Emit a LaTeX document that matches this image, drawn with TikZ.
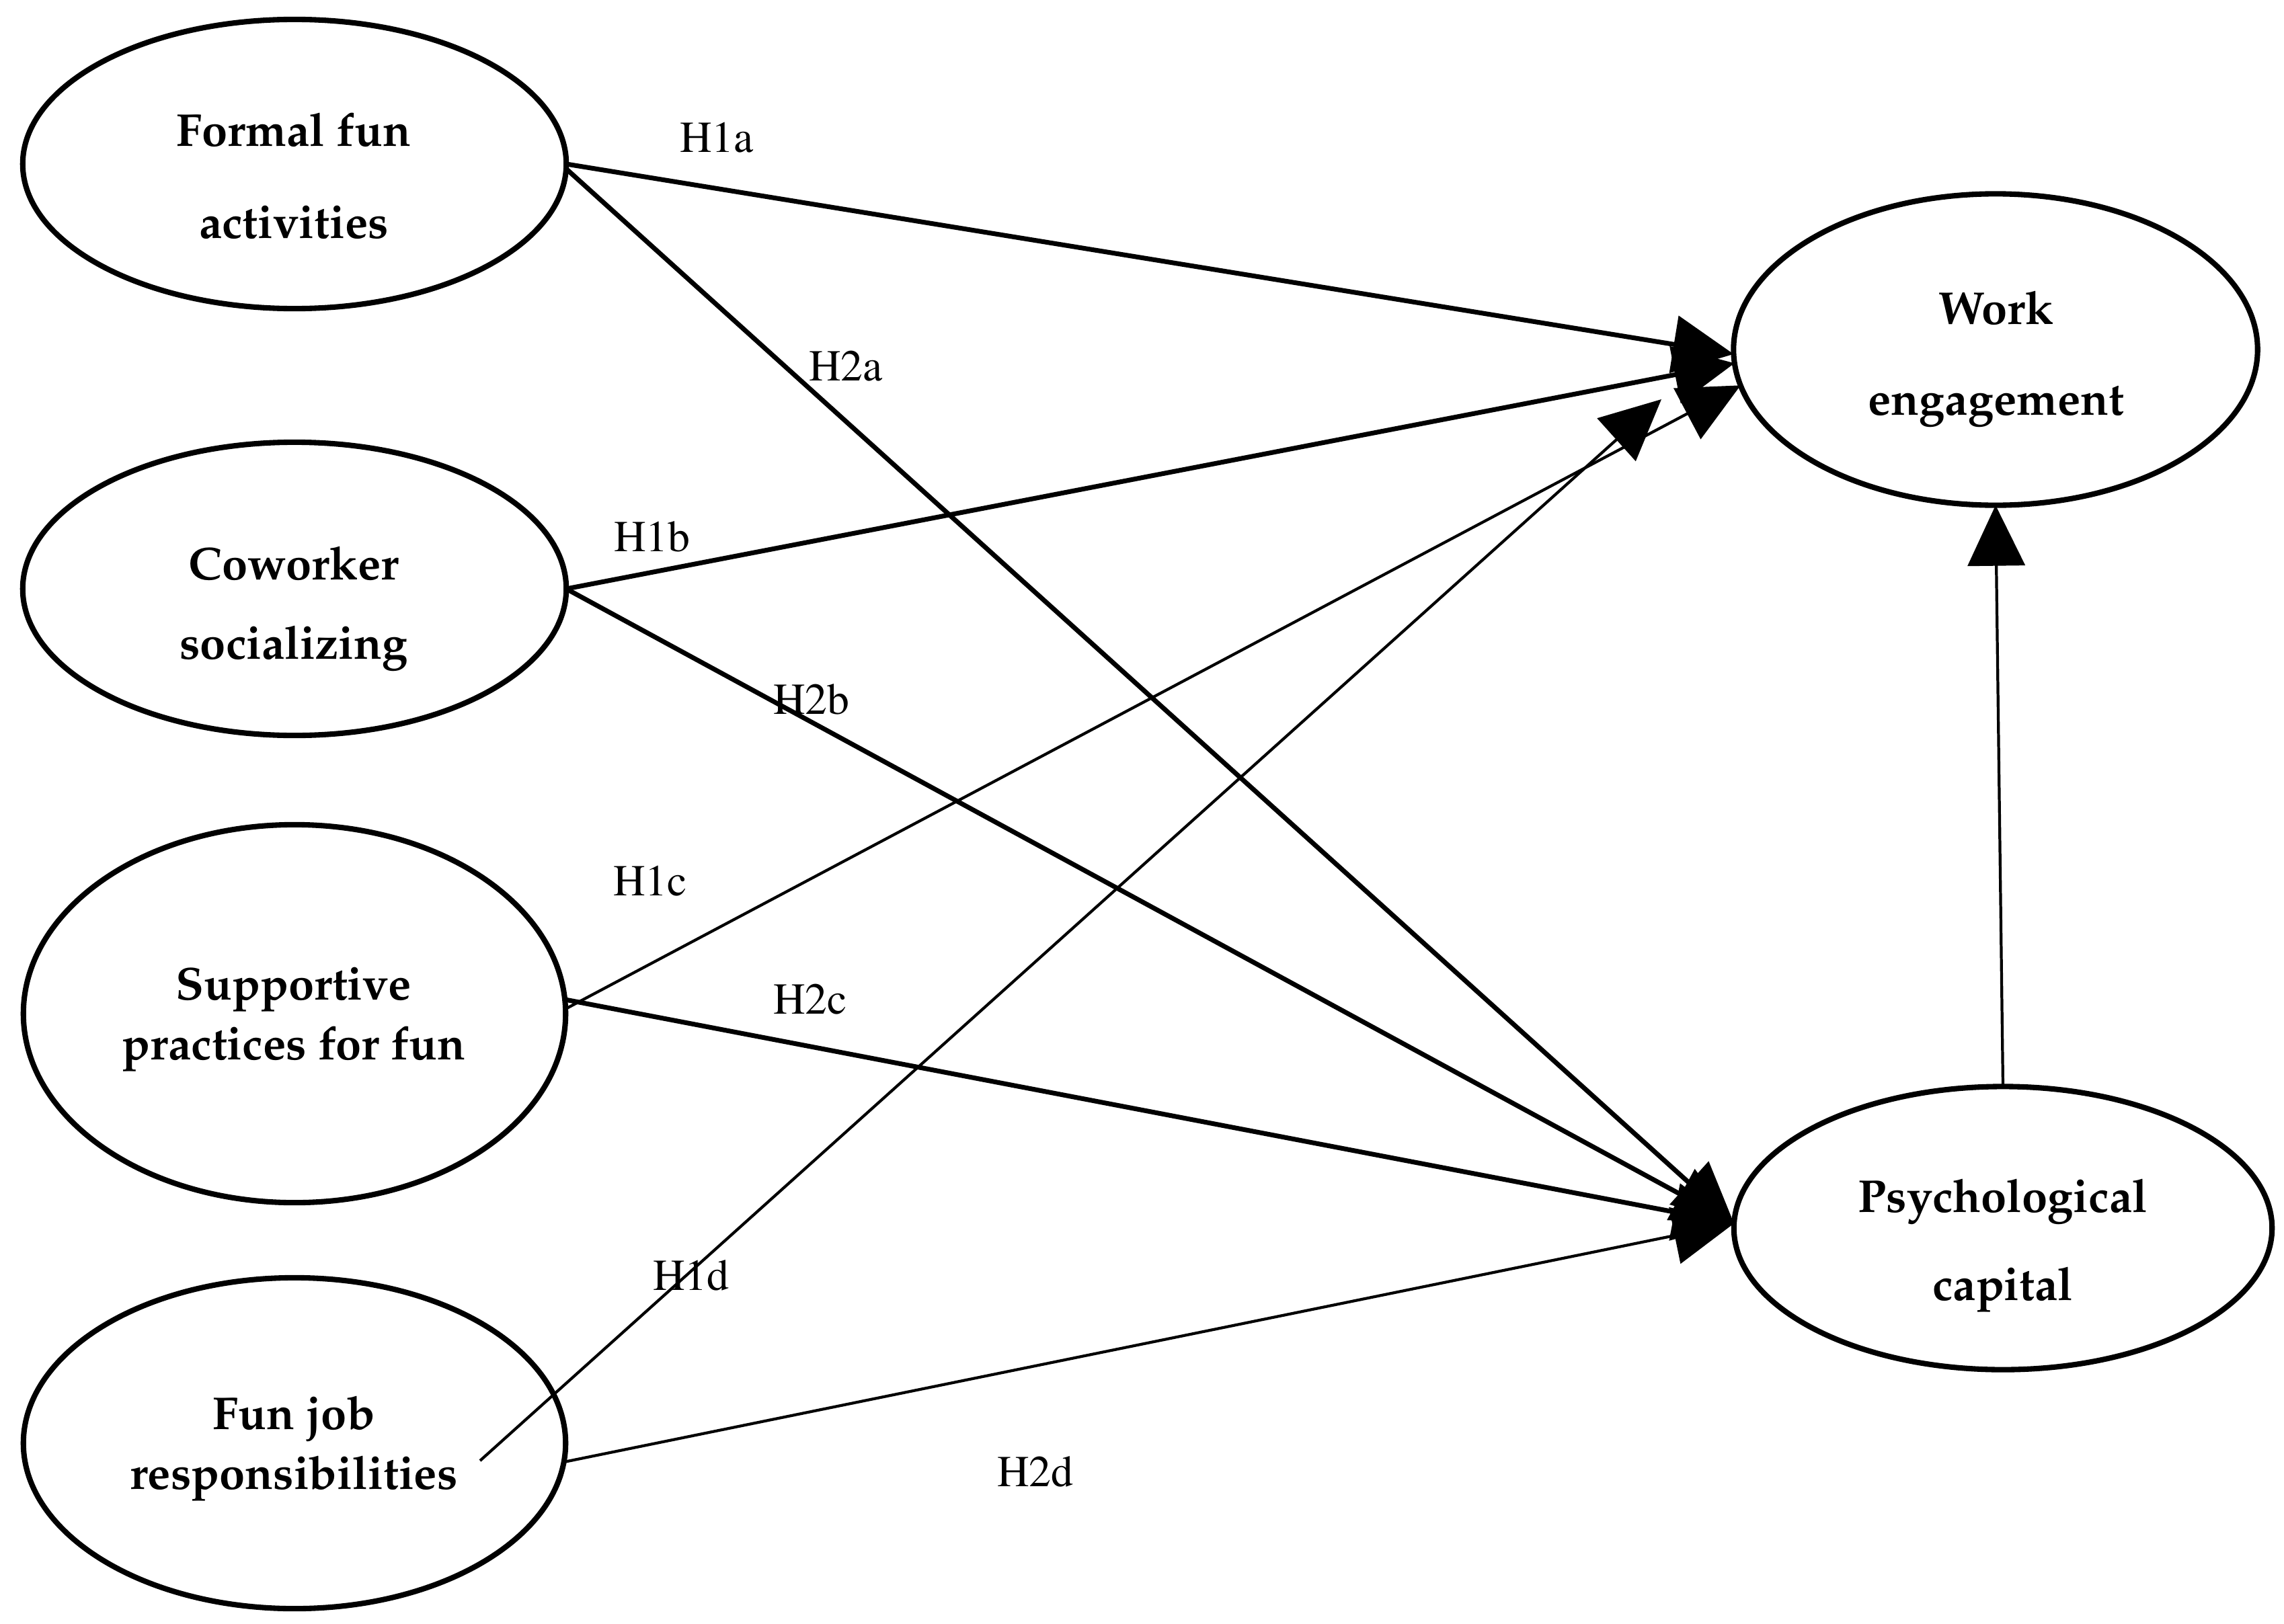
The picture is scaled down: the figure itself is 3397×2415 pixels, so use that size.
\documentclass[tikz,border=0pt]{standalone}
\usepackage[T1]{fontenc}
\usetikzlibrary{arrows.meta,shapes.geometric}
\newcommand\palbold{\fontfamily{ppl}\fontseries{b}\fontshape{n}\fontsize{19.5}{23}\selectfont}
\newcommand\tmsreg{\fontfamily{ptm}\fontseries{m}\fontshape{n}\fontsize{18.7}{22}\selectfont}
\begin{document}
\begin{tikzpicture}[x=0.01cm,y=-0.01cm,
  latent/.style={ellipse, draw, line width=2.3pt, inner sep=0pt, outer sep=0pt},
  vname/.style={font=\palbold, anchor=base, inner sep=0pt},
  hyp/.style={font=\tmsreg, anchor=base, inner sep=0pt},
  tipstyle/.style={-{Triangle[length=0.9cm,width=0.85cm]}},
  thickpath/.style={tipstyle, line width=2pt},
  thinpath/.style={tipstyle, line width=1.2pt}]
\useasboundingbox (0,0) rectangle (3397,2415);
\fill[white] (0,0) rectangle (3397,2415);

% latent variables
\node[latent, minimum width=8.08cm, minimum height=4.30cm] (ff) at (438,244) {};
\node[latent, minimum width=8.08cm, minimum height=4.36cm] (cs) at (438,876) {};
\node[latent, minimum width=8.06cm, minimum height=5.62cm] (sp) at (438,1508) {};
\node[latent, minimum width=8.06cm, minimum height=4.92cm] (fj) at (438,2147) {};
\node[latent, minimum width=7.79cm, minimum height=4.63cm] (we) at (2968,520) {};
\node[latent, minimum width=8.00cm, minimum height=4.21cm] (pc) at (2979,1827) {};

% names
\node[vname] (ff1) at (437,218) {Formal fun};
\node[vname] (ff2) at (437,354) {activities};
\node[vname] (cs1) at (437,862) {Coworker};
\node[vname] (cs2) at (437,980) {socializing};
\node[vname] (sp1) at (437,1487) {Supportive};
\node[vname] (sp2) at (437,1576) {practices for fun};
\node[vname] (fj1) at (437,2126) {Fun job};
\node[vname] (fj2) at (437,2215) {responsibilities};
\node[vname] (we1) at (2969,482) {Work};
\node[vname] (we2) at (2969,617) {engagement};
\node[vname] (pc1) at (2979,1803) {Psychological};
\node[vname] (pc2) at (2979,1934) {capital};

% hypothesis labels
\node[hyp] (h1a) at (1066,226) {H1a};
\node[hyp] (h1b) at (970,820) {H1b};
\node[hyp] (h1c) at (967,1332) {H1c};
\node[hyp] (h1d) at (1028,1919) {H1d};
\node[hyp] (h2a) at (1258,566) {H2a};
\node[hyp] (h2b) at (1207,1062) {H2b};
\node[hyp] (h2c) at (1205,1508) {H2c};
\node[hyp] (h2d) at (1540,2211) {H2d};

% free ends of H1d
\coordinate (h1dstart) at (714,2173);
\coordinate (h1dend) at (2471,594);

% connectors
\draw[thickpath] (ff.east) -- (we.181);
\draw[thickpath] (ff.-1) -- (pc.179);
\draw[thickpath] (cs.east) -- (we.183);
\draw[thickpath] (cs.east) -- (pc.179);
\draw[thinpath] (sp.1) -- (we.188);
\draw[thickpath] (sp.3) -- (pc.179);
\draw[thinpath] (h1dstart) -- (h1dend);
\draw[thinpath] (fj.-4) -- (pc.179);
\draw[thinpath] (pc.north) -- (we.south);
\end{tikzpicture}
\end{document}
